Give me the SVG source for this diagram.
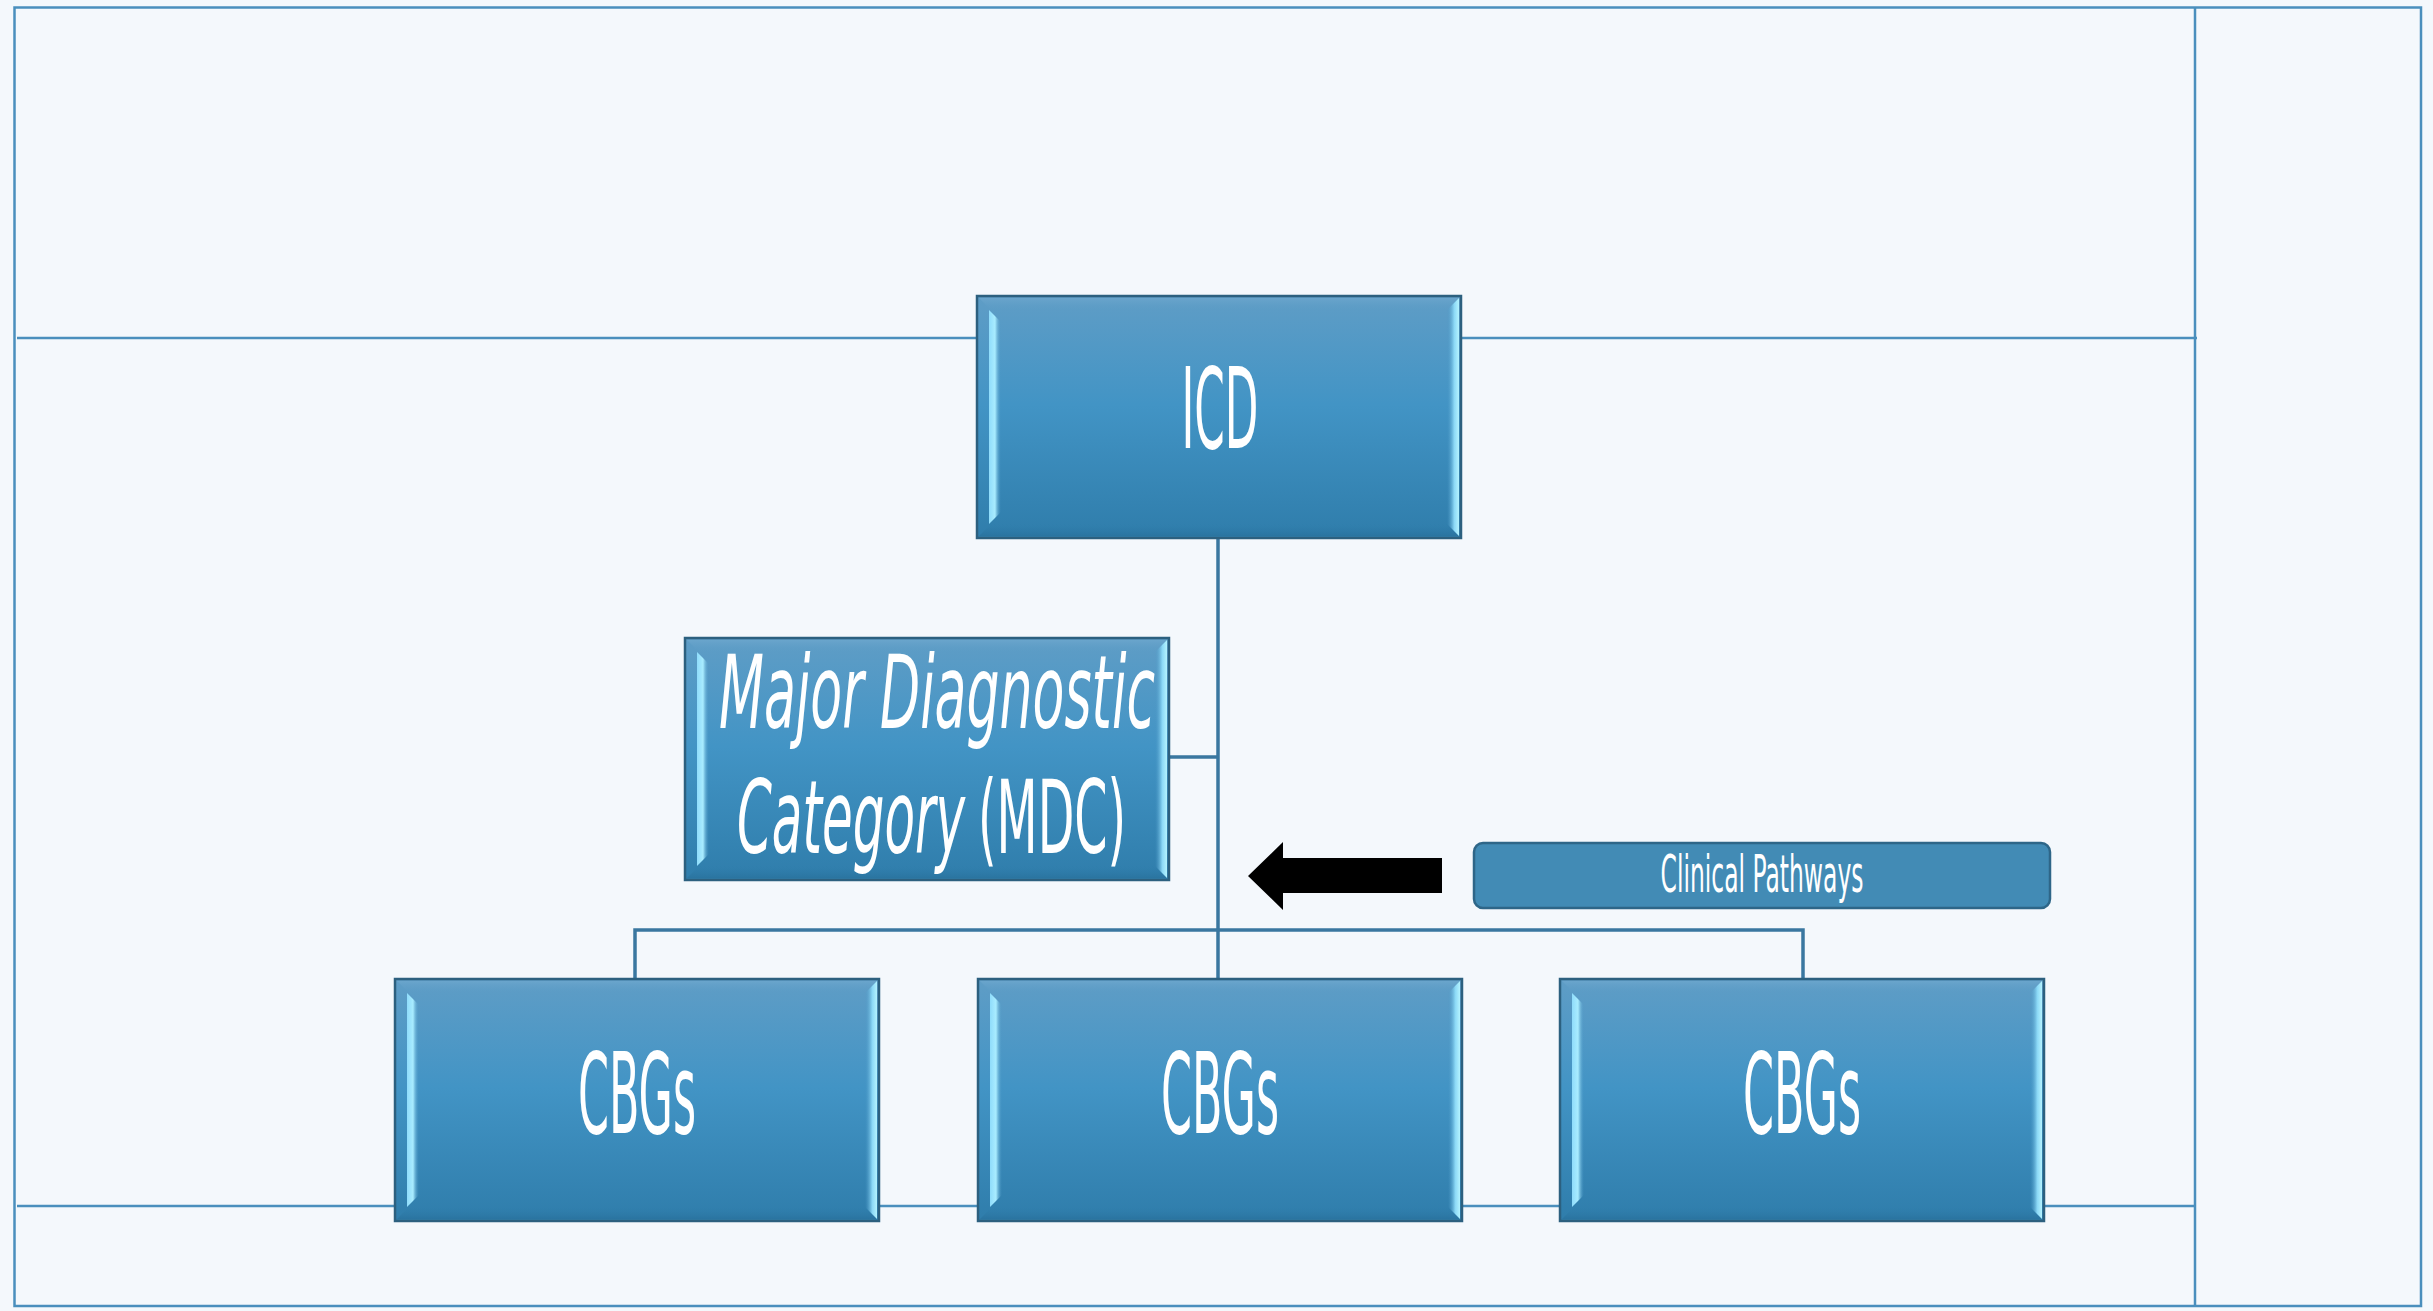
<svg xmlns="http://www.w3.org/2000/svg" width="2433" height="1311" viewBox="0 0 2433 1311">
<defs>
<linearGradient id="body" x1="0" y1="0" x2="0" y2="1">
<stop offset="0" stop-color="#5f9dc6"/>
<stop offset="0.45" stop-color="#4294c5"/>
<stop offset="1" stop-color="#2f7dab"/>
</linearGradient>
<linearGradient id="bevL" x1="0" y1="0" x2="1" y2="0">
<stop offset="0" stop-color="#8fdcfb"/>
<stop offset="0.5" stop-color="#a9ecff"/>
<stop offset="1" stop-color="#4b97c5" stop-opacity="0"/>
</linearGradient>
<linearGradient id="bevR" x1="0" y1="0" x2="1" y2="0">
<stop offset="0" stop-color="#4b97c5" stop-opacity="0"/>
<stop offset="0.6" stop-color="#8bd8f6"/>
<stop offset="1" stop-color="#b4f3ff"/>
</linearGradient>
<linearGradient id="bevT" x1="0" y1="0" x2="0" y2="1">
<stop offset="0" stop-color="#6aa5cc"/>
<stop offset="1" stop-color="#5d9dc7" stop-opacity="0"/>
</linearGradient>
<linearGradient id="bevB" x1="0" y1="0" x2="0" y2="1">
<stop offset="0" stop-color="#2f7dab" stop-opacity="0"/>
<stop offset="1" stop-color="#2a74a0"/>
</linearGradient>
<g id="box">
<rect x="0" y="0" width="484" height="242" fill="url(#body)" stroke="#2c607f" stroke-width="2.5"/>
<polygon points="2,2 482,2 470,14 14,14" fill="url(#bevT)"/>
<polygon points="14,228 470,228 482,240 2,240" fill="url(#bevB)"/>
<polygon points="12,14 24,26 24,216 12,228" fill="url(#bevL)"/>
<polygon points="470,14 482,2 482,240 470,228" fill="url(#bevR)"/>
</g>
</defs>
<style>
.frame{fill:none;stroke:#4a8fbd;stroke-width:2.5}
.conn{fill:none;stroke:#3a77a0;stroke-width:3.5}
.t{fill:#ffffff;font-family:"Liberation Sans Narrow","DejaVu Sans Condensed","Liberation Sans",sans-serif}
</style>
<rect x="0" y="0" width="2433" height="1311" fill="#f4f8fc"/>
<g id="frame">
<rect class="frame" x="14.5" y="7.5" width="2406.5" height="1298.5"/>
<line class="frame" x1="2195" y1="7.5" x2="2195" y2="1306"/>
<line class="frame" x1="17" y1="338" x2="2197" y2="338"/>
<line class="frame" x1="17" y1="1206" x2="2195" y2="1206"/>
</g>
<g id="connectors">
<line class="conn" x1="1218" y1="538" x2="1218" y2="979"/>
<line class="conn" x1="1169" y1="757" x2="1218" y2="757"/>
<polyline class="conn" points="635,979 635,930 1803,930 1803,979"/>
<polygon points="1248,876 1283,842 1283,858 1442,858 1442,893 1283,893 1283,910" fill="#000000"/>
</g>
<g id="icd">
<use href="#box" x="977" y="296"/>
<text class="t" x="1220" y="448" font-size="112" text-anchor="middle" textLength="77" lengthAdjust="spacingAndGlyphs">ICD</text>
</g>
<g id="mdc">
<use href="#box" x="685" y="638"/>
<text class="t" x="719" y="728" font-size="102" font-style="italic" textLength="436" lengthAdjust="spacingAndGlyphs">Major Diagnostic</text>
<text class="t" transform="translate(737,853) scale(0.544,1)" font-size="102" font-style="italic" textLength="419" lengthAdjust="spacingAndGlyphs">Category</text>
<text class="t" transform="translate(978,853) scale(0.518,1)" font-size="102" textLength="286" lengthAdjust="spacingAndGlyphs">(MDC)</text>
</g>
<g id="cbg1">
<use href="#box" x="395" y="979"/>
<text class="t" x="637" y="1133" font-size="112" text-anchor="middle" textLength="118" lengthAdjust="spacingAndGlyphs">CBGs</text>
</g>
<g id="cbg2">
<use href="#box" x="978" y="979"/>
<text class="t" x="1220" y="1133" font-size="112" text-anchor="middle" textLength="118" lengthAdjust="spacingAndGlyphs">CBGs</text>
</g>
<g id="cbg3">
<use href="#box" x="1560" y="979"/>
<text class="t" x="1802" y="1133" font-size="112" text-anchor="middle" textLength="118" lengthAdjust="spacingAndGlyphs">CBGs</text>
</g>
<g id="clinical">
<rect x="1474" y="843" width="576" height="65" rx="9" fill="#428bb5" stroke="#2e6688" stroke-width="2.5"/>
<text class="t" x="1762" y="892" font-size="52" text-anchor="middle" textLength="203" lengthAdjust="spacingAndGlyphs">Clinical Pathways</text>
</g>
</svg>
